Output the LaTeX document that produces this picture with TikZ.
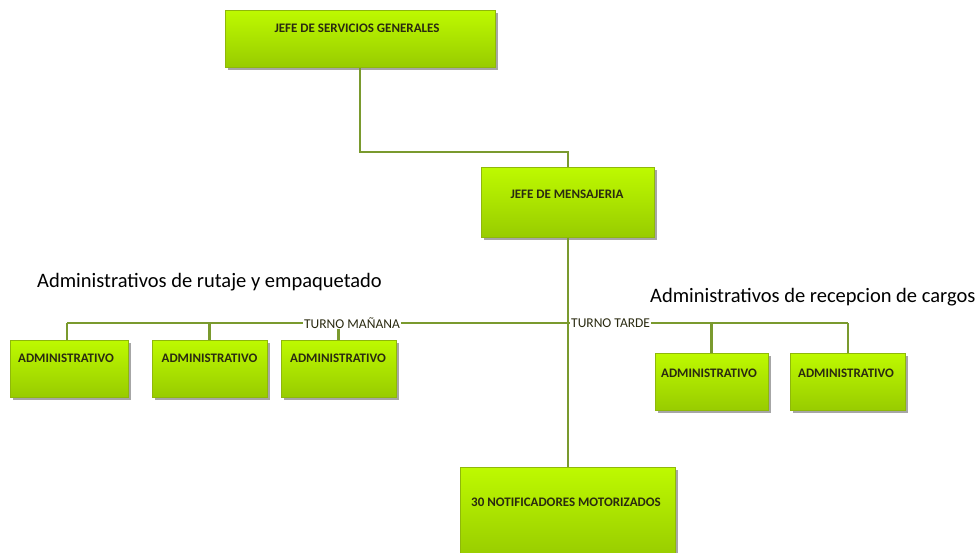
\documentclass[tikz,border=0pt]{standalone}
\usepackage{fontspec}
\setmainfont{Carlito}
\usetikzlibrary{shadows}
\definecolor{limetop}{HTML}{BEFA00}
\definecolor{limebot}{HTML}{98CC00}
\definecolor{limeedge}{HTML}{8FB80A}
\definecolor{linkgreen}{HTML}{7A9A2E}
\definecolor{textdark}{HTML}{2A2A10}
\tikzset{
  box/.style={rectangle, draw=limeedge, line width=1pt, top color=limetop, bottom color=limebot,
    inner sep=0pt, drop shadow={shadow xshift=2.5pt, shadow yshift=-2.5pt, opacity=0.35, fill=black}},
  boxtext/.style={font=\fontsize{13}{15}\selectfont\bfseries, text=textdark, inner sep=0pt},
  link/.style={draw=linkgreen, line width=2.2pt},
  turno/.style={font=\fontsize{13.5}{16}\selectfont, fill=white, inner sep=1pt, text=textdark},
  title/.style={font=\fontsize{20.5}{24}\selectfont, text=black, inner sep=0pt, anchor=west}
}
\begin{document}
\begin{tikzpicture}[x=1pt,y=-1pt]
\useasboundingbox (0,0) rectangle (975,552);
\coordinate (c1) at (360,152);
\coordinate (c2) at (568,152);
\coordinate (hl) at (67,323);
\coordinate (hr) at (848,323);
% boxes
\node[box, minimum width=270, minimum height=57] (jsg) at (360,38.5) {};
\node[box, minimum width=173, minimum height=70] (jm) at (568,202) {};
\node[box, minimum width=118, minimum height=57] (a1) at (69,368.5) {};
\node[box, minimum width=115, minimum height=57] (a2) at (209.5,368.5) {};
\node[box, minimum width=115, minimum height=57] (a3) at (338.5,368.5) {};
\node[box, minimum width=113, minimum height=57] (a4) at (711.5,381.5) {};
\node[box, minimum width=115, minimum height=57] (a5) at (847.5,381.5) {};
\node[box, minimum width=215, minimum height=90] (nm) at (567.5,512) {};
% connectors
\draw[link] (jsg.south -| c1) -- (c1) -- (c2) -- (jm.north -| c2);
\draw[link] (jm.south) -- (nm.north -| jm.south);
\draw[link] (hl) -- (hr);
\draw[link] (hl) -- (a1.north -| hl);
\draw[link] (a2.north |- hl) -- (a2.north);
\draw[link] (a3.north |- hl) -- (a3.north);
\draw[link] (a4.north |- hl) -- (a4.north);
\draw[link] (hr) -- (a5.north -| hr);
% labels on the line
\node[turno] (tm) at (352,323) {TURNO MAÑANA};
\node[turno, anchor=west] (tt) at (570,323) {TURNO TARDE};
% box texts
\node[boxtext] (jsg-t) at (357,28) {JEFE DE SERVICIOS GENERALES};
\node[boxtext] (jm-t) at (567,194) {JEFE DE MENSAJERIA};
\node[boxtext] (a1-t) at (66,358) {ADMINISTRATIVO};
\node[boxtext] (a2-t) at (209.5,358) {ADMINISTRATIVO};
\node[boxtext] (a3-t) at (338,358) {ADMINISTRATIVO};
\node[boxtext] (a4-t) at (709,373) {ADMINISTRATIVO};
\node[boxtext] (a5-t) at (846,373) {ADMINISTRATIVO};
\node[boxtext] (nm-t) at (566,502) {30 NOTIFICADORES MOTORIZADOS};
% titles
\node[title] (t1) at (37,282) {Administrativos de rutaje y empaquetado};
\node[title] (t2) at (650,297) {Administrativos de recepcion de cargos};
\end{tikzpicture}
\end{document}
